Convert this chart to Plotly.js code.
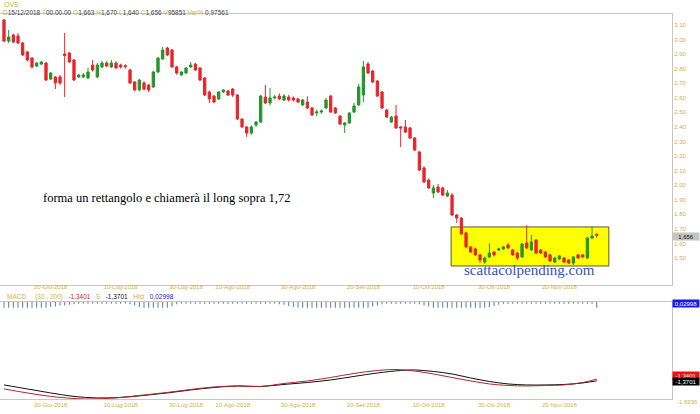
<!DOCTYPE html>
<html><head><meta charset="utf-8">
<script src="https://cdn.plot.ly/plotly-3.0.1.min.js"></script>
<style>html,body{margin:0;padding:0;background:#fff}#chart{width:700px;height:414px}</style>
</head><body><div id="chart"></div>
<script>
// ---- data ----
const openP = [3.134,2.990,3.031,3.024,2.976,2.915,2.873,2.818,2.832,2.839,2.729,2.743,2.743,2.901,2.908,2.860,2.743,2.743,2.736,2.825,
2.743,2.812,2.839,2.812,2.839,2.825,2.820,2.791,2.709,2.654,2.702,2.688,2.674,2.777,2.867,2.942,2.928,2.812,2.757,2.770,
2.812,2.832,2.805,2.736,2.640,2.612,2.592,2.640,2.647,2.660,2.619,2.454,2.400,2.358,2.413,2.434,2.605,2.564,2.599,2.612,
2.585,2.605,2.599,2.592,2.551,2.571,2.530,2.496,2.502,2.530,2.612,2.530,2.475,2.413,2.427,2.502,2.551,2.619,2.832,2.784,
2.715,2.640,2.516,2.434,2.475,2.400,2.400,2.393,2.324,2.228,2.118,2.035,1.946,1.987,1.981,1.925,1.932,1.795,1.774,1.672,
1.576,1.562,1.521,1.472,1.507,1.541,1.555,1.562,1.589,1.555,1.534,1.507,1.603,1.555,1.623,1.555,1.541,1.521,1.472,1.493,
1.500,1.486,1.465,1.521,1.521,1.500,1.637,1.663];
const highP = [3.141,3.066,3.040,3.045,2.983,2.922,2.880,2.846,2.853,2.846,2.777,2.750,2.757,3.045,2.915,2.867,2.764,2.770,2.805,2.860,
2.840,2.853,2.850,2.860,2.850,2.835,2.830,2.800,2.715,2.730,2.715,2.695,2.785,2.880,2.949,2.950,2.935,2.820,2.784,2.810,
2.846,2.840,2.810,2.743,2.650,2.620,2.647,2.660,2.654,2.667,2.626,2.460,2.405,2.410,2.440,2.620,2.688,2.667,2.620,2.630,
2.625,2.620,2.610,2.600,2.592,2.610,2.537,2.520,2.520,2.600,2.620,2.537,2.480,2.434,2.500,2.565,2.695,2.853,2.846,2.791,
2.722,2.647,2.523,2.475,2.551,2.405,2.448,2.400,2.330,2.235,2.130,2.045,2.001,2.008,1.990,1.967,1.946,1.800,1.781,1.680,
1.580,1.569,1.528,1.510,1.600,1.548,1.570,1.583,1.603,1.562,1.541,1.603,1.726,1.658,1.630,1.560,1.548,1.528,1.507,1.520,
1.507,1.493,1.514,1.528,1.528,1.644,1.713,1.670];
const lowP = [2.983,2.976,2.976,2.970,2.887,2.850,2.800,2.810,2.825,2.715,2.722,2.660,2.688,2.605,2.840,2.715,2.736,2.736,2.729,2.780,
2.736,2.805,2.810,2.805,2.800,2.800,2.800,2.695,2.645,2.645,2.650,2.640,2.667,2.770,2.860,2.887,2.805,2.760,2.750,2.764,
2.805,2.785,2.715,2.612,2.564,2.564,2.585,2.633,2.612,2.605,2.447,2.393,2.331,2.345,2.400,2.427,2.557,2.550,2.590,2.585,
2.578,2.575,2.575,2.565,2.544,2.523,2.475,2.475,2.490,2.523,2.495,2.489,2.413,2.358,2.420,2.496,2.544,2.571,2.764,2.700,
2.605,2.523,2.461,2.427,2.386,2.262,2.358,2.317,2.234,2.097,2.015,1.975,1.912,1.946,1.925,1.918,1.788,1.740,1.658,1.569,
1.534,1.514,1.466,1.460,1.500,1.510,1.548,1.555,1.562,1.514,1.486,1.500,1.562,1.548,1.527,1.527,1.500,1.472,1.465,1.486,
1.465,1.458,1.450,1.493,1.500,1.493,1.630,1.640];
const closeP = [2.990,3.018,2.983,2.976,2.894,2.860,2.812,2.839,2.846,2.722,2.770,2.702,2.702,2.890,2.846,2.722,2.757,2.757,2.777,2.791,
2.825,2.839,2.818,2.839,2.805,2.812,2.815,2.702,2.654,2.722,2.660,2.654,2.777,2.873,2.928,2.894,2.812,2.770,2.777,2.805,
2.825,2.791,2.722,2.619,2.592,2.571,2.640,2.654,2.619,2.619,2.454,2.400,2.358,2.400,2.434,2.612,2.564,2.599,2.605,2.592,
2.612,2.585,2.585,2.571,2.585,2.530,2.482,2.502,2.509,2.585,2.502,2.496,2.420,2.427,2.496,2.544,2.674,2.812,2.770,2.709,
2.612,2.530,2.468,2.468,2.393,2.393,2.365,2.324,2.241,2.104,2.022,1.981,1.981,1.953,1.932,1.946,1.795,1.774,1.665,1.576,
1.541,1.521,1.486,1.500,1.534,1.521,1.562,1.576,1.569,1.521,1.500,1.596,1.569,1.610,1.534,1.534,1.507,1.479,1.500,1.514,
1.472,1.465,1.507,1.500,1.507,1.637,1.650,1.656];

const tickPos  = [10, 25, 39, 49, 63, 77, 91, 105, 119];
const tickText = ['20-Giu-2018','10-Lug-2018','30-Lug-2018','10-Ago-2018','30-Ago-2018','20-Set-2018','10-Ott-2018','30-Ott-2018','20-Nov-2018'];
const priceTicks = [1.5,1.6,1.7,1.8,1.9,2.0,2.1,2.2,2.3,2.4,2.5,2.6,2.7,2.8,2.9,3.0,3.1];

// MACD (red) and signal (black) read at sample bars
const macdIdx  = [0,5,10,15,18,22,25,30,35,40,45,50,55,60,65,70,75,80,84,88,92,96,100,104,108,112,116,120,124,127];
const macdVal  = [-1.515,-1.586,-1.648,-1.684,-1.693,-1.684,-1.666,-1.622,-1.577,-1.524,-1.480,-1.462,-1.471,-1.418,-1.373,-1.311,-1.240,-1.187,-1.169,-1.196,-1.249,-1.311,-1.373,-1.426,-1.453,-1.462,-1.453,-1.444,-1.400,-1.3401];
const sigIdx   = [0,5,10,15,20,25,30,35,40,45,50,55,60,65,70,75,80,85,88,92,96,100,104,108,112,116,120,124,127];
const sigVal   = [-1.444,-1.515,-1.586,-1.648,-1.675,-1.666,-1.630,-1.586,-1.533,-1.489,-1.462,-1.471,-1.435,-1.400,-1.355,-1.293,-1.231,-1.187,-1.178,-1.204,-1.249,-1.320,-1.382,-1.426,-1.444,-1.444,-1.435,-1.409,-1.3701];
// histogram tick magnitudes per bar
const histogram = [0.10,0.10,0.10,0.10,0.10,0.10,0.10,0.10,0.10,0.10,0.09,0.08,0.06,0.06,0.05,0.04,0.03,0.03,0.03,0.03,
0.03,0.03,0.03,0.03,0.03,0.03,0.03,0.04,0.06,0.09,0.10,0.10,0.10,0.10,0.10,0.10,0.08,0.04,0.03,0.03,
0.03,0.03,0.03,0.03,0.03,0.03,0.03,0.03,0.03,0.03,0.03,0.03,0.03,0.03,0.03,0.03,0.03,0.03,0.03,0.04,
0.05,0.07,0.09,0.10,0.10,0.10,0.10,0.10,0.10,0.10,0.10,0.10,0.10,0.10,0.10,0.10,0.10,0.10,0.10,0.08,
0.06,0.04,0.03,0.03,0.03,0.03,0.03,0.03,0.03,0.04,0.06,0.08,0.10,0.10,0.10,0.10,0.10,0.10,0.10,0.10,
0.10,0.10,0.10,0.10,0.09,0.07,0.05,0.03,0.03,0.03,0.03,0.03,0.03,0.03,0.03,0.03,0.03,0.03,0.03,0.03,
0.03,0.03,0.03,0.03,0.03,0.03,0.03,0.10];
const macdRange = [-1.6936, 0.02998];
const boxBars = [95.8, 129.6];
const boxPrices = [1.445, 1.713];

// ---- chart ----
const gold = '#d6ad47';
const idx = openP.map((_, i) => i);
const hx = histogram.map((_, i) => i);

const traces = [
  {type:'candlestick', x: idx, open: openP, high: highP, low: lowP, close: closeP,
   xaxis:'x', yaxis:'y', whiskerwidth: 0,
   increasing:{line:{color:'#22962a', width:1}, fillcolor:'#22962a'},
   decreasing:{line:{color:'#e8252b', width:1}, fillcolor:'#e8252b'},
   hoverinfo:'skip', showlegend:false},
  {type:'bar', x: hx, y: histogram.map(v => -v), base: macdRange[1], xaxis:'x2', yaxis:'y2',
   width: 0.22, marker:{color:'#6a78a0'}, showlegend:false, hoverinfo:'skip'},
  {type:'scatter', mode:'lines', x: sigIdx, y: sigVal, xaxis:'x2', yaxis:'y2',
   line:{color:'#111111', width:1, shape:'spline'}, showlegend:false, hoverinfo:'skip'},
  {type:'scatter', mode:'lines', x: macdIdx, y: macdVal, xaxis:'x2', yaxis:'y2',
   line:{color:'#b0282a', width:1, shape:'spline'}, showlegend:false, hoverinfo:'skip'}
];

const W = 700, H = 414;
const px = v => v / W, py = v => 1 - v / H;
const xr = [-0.857, 143.13];
const axisX = {range: xr, tickvals: tickPos, ticktext: tickText, ticks:'', showgrid:false, zeroline:false,
  showline:true, mirror:true, linecolor:'#c6c6c6', linewidth:1,
  tickfont:{family:'Liberation Sans, Arial', size:6, color:gold}, domain:[0, 672/700], fixedrange:true};

const sp = (c, t) => `<span style="color:${c}">${t}</span>`;
const dk = '#444';
const hdr = sp(gold,'D')+sp(dk,'15/12/2018')+' '+sp(gold,'T')+sp(dk,'00.00.00')+' '+sp(gold,'O')+sp(dk,'1,663')+' '+
  sp(gold,'H')+sp(dk,'1,670')+' '+sp(gold,'L')+sp(dk,'1,640')+' '+sp(gold,'C')+sp(dk,'1,656')+' '+
  sp(gold,'V')+sp(dk,'95851')+' '+sp(gold,'Var%')+' '+sp(dk,'0,97561');

const small = {family:'Liberation Sans, Arial', size:6.5, color:dk};
const annotations = [
  {xref:'paper', yref:'paper', x:px(2), y:py(4), xanchor:'left', yanchor:'middle', showarrow:false,
   text:'OVS', font:{family:'Liberation Sans, Arial', size:7, color:gold}},
  {xref:'paper', yref:'paper', x:px(1), y:py(12), xanchor:'left', yanchor:'middle', showarrow:false,
   text:hdr, font:small},
  {xref:'paper', yref:'paper', x:px(41), y:py(198), xanchor:'left', yanchor:'middle', showarrow:false,
   text:'forma un rettangolo e chiamerà il long sopra 1,72', font:{family:'Liberation Serif, Times New Roman', size:12.5, color:'#000'}},
  {xref:'paper', yref:'paper', x:px(529), y:py(270), xanchor:'center', yanchor:'middle', showarrow:false,
   text:'scattacolpending.com', font:{family:'Liberation Serif, Times New Roman', size:15, color:'#3452b4'}},
  {xref:'paper', yref:'paper', x:1, y:py(236), xanchor:'right', yanchor:'middle', showarrow:false,
   text:'1,656', width:26, height:7, bgcolor:'#c4c4c4', borderpad:0, align:'center',
   font:{family:'Liberation Sans, Arial', size:6, color:'#111'}},
  {xref:'paper', yref:'paper', x:px(5), y:py(297), xanchor:'left', yanchor:'middle', showarrow:false,
   text: sp(gold,'MACD')+'&nbsp;&nbsp;&nbsp;&nbsp;&nbsp;'+sp(gold,'(32 , 200)')+'&nbsp;&nbsp;&nbsp;'+sp('#e01818','-1,3401')+'&nbsp;&nbsp;&nbsp;'+
     sp(gold,'S')+'&nbsp;&nbsp;&nbsp;'+sp('#111','-1,3701')+'&nbsp;&nbsp;&nbsp;'+sp(gold,'Hist')+'&nbsp;&nbsp;&nbsp;'+sp('#2020c0','0,02998'),
   font:{family:'Liberation Sans, Arial', size:6.5, color:gold}},
  {xref:'paper', yref:'paper', x:1, y:py(303), xanchor:'right', yanchor:'middle', showarrow:false,
   text:'0,02998', width:26, height:7, bgcolor:'#1a1ae6', borderpad:0, font:{family:'Liberation Sans, Arial', size:6, color:'#fff'}},
  {xref:'paper', yref:'paper', x:1, y:py(375), xanchor:'right', yanchor:'middle', showarrow:false,
   text:'-1,3401', width:26, height:7, bgcolor:'#ee1111', borderpad:0, font:{family:'Liberation Sans, Arial', size:6, color:'#fff'}},
  {xref:'paper', yref:'paper', x:1, y:py(381), xanchor:'right', yanchor:'middle', showarrow:false,
   text:'-1,3701', width:26, height:7, bgcolor:'#000', borderpad:0, font:{family:'Liberation Sans, Arial', size:6, color:'#fff'}},
  {xref:'paper', yref:'paper', x:px(675), y:py(402), xanchor:'left', yanchor:'middle', showarrow:false,
   text:'-1,6936', font:{family:'Liberation Sans, Arial', size:6, color:gold}}
];

const layout = {
  width: W, height: H, margin:{l:0, r:0, t:0, b:0}, paper_bgcolor:'#fff', plot_bgcolor:'#fff',
  showlegend:false, hovermode:false,
  xaxis: Object.assign({}, axisX, {anchor:'y', rangeslider:{visible:false}, ticklabelstandoff:-4}),
  yaxis: {domain:[py(285), py(14)], range:[1.3143, 3.1755], side:'right', anchor:'x',
    tickvals: priceTicks, tickformat:'.2f', ticks:'', showgrid:false, zeroline:false,
    showline:true, mirror:true, linecolor:'#c6c6c6', linewidth:1,
    tickfont:{family:'Liberation Sans, Arial', size:6, color:gold}, fixedrange:true},
  xaxis2: Object.assign({}, axisX, {anchor:'y2'}),
  yaxis2: {domain:[py(399), py(302)], range: macdRange, side:'right', anchor:'x2',
    showticklabels:false, ticks:'', showgrid:false, zeroline:false,
    showline:true, mirror:true, linecolor:'#c6c6c6', linewidth:1, fixedrange:true},
  shapes:[{type:'rect', xref:'x', yref:'y', x0:boxBars[0], x1:boxBars[1], y0:boxPrices[0], y1:boxPrices[1],
    fillcolor:'#ffff00', line:{color:'#5a5a20', width:1}, layer:'below'}],
  annotations: annotations
};

Plotly.newPlot('chart', traces, layout, {staticPlot:true, displayModeBar:false});
</script>
</body></html>
